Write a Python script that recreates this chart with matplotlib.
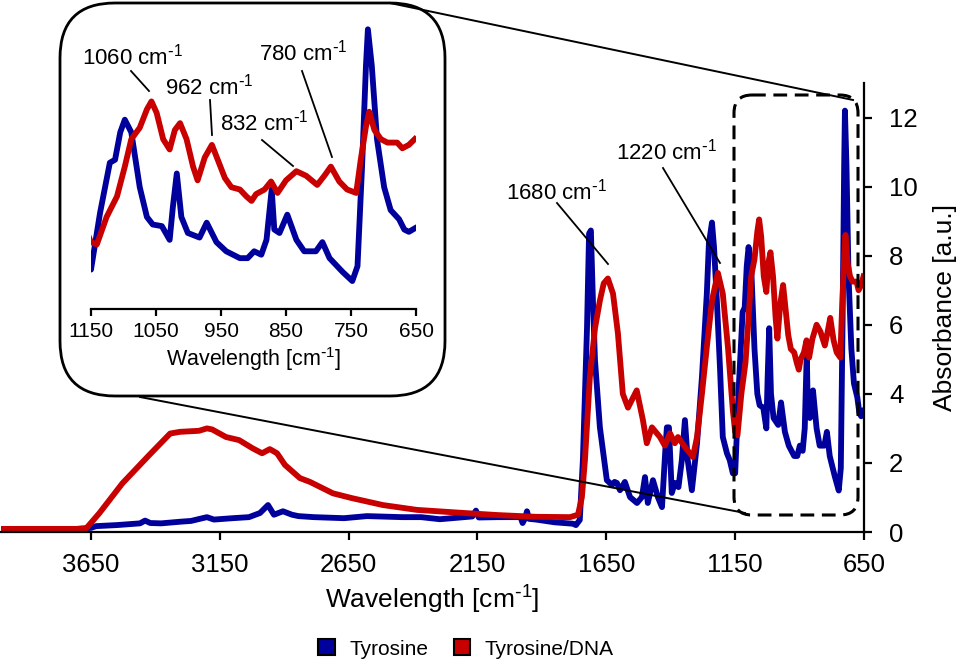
import numpy as np
import matplotlib
matplotlib.use('Agg')
import matplotlib.pyplot as plt
from matplotlib.patches import FancyBboxPatch, Patch
from matplotlib.lines import Line2D
from matplotlib import transforms

plt.rcParams['font.family'] = ['Liberation Sans', 'DejaVu Sans']
plt.rcParams['mathtext.default'] = 'regular'

# Tyrosine spectrum (wavenumber cm-1, absorbance a.u.)
wn_tyr = [4000, 3720, 3650, 3630, 3550, 3460, 3440, 3420, 3378, 3300, 3262, 3200, 3173,
          3100, 3037, 2994, 2963, 2940, 2905, 2870, 2845, 2785, 2668, 2579, 2443, 2369,
          2296, 2170, 2156, 2145, 2072, 1983, 1975, 1965, 1958, 1950, 1923, 1850, 1780,
          1768, 1753, 1741, 1725, 1717, 1710, 1702, 1694, 1675, 1648, 1628, 1618, 1609,
          1597, 1578, 1558, 1531, 1512, 1500, 1489, 1469, 1450, 1434, 1420, 1415, 1407,
          1396, 1384, 1370, 1357, 1345, 1334, 1318, 1298, 1279, 1260, 1252, 1240, 1232,
          1221, 1209, 1198, 1182, 1171, 1159, 1150, 1136, 1121, 1113, 1105, 1098, 1088,
          1075, 1064, 1055, 1041, 1029, 1024, 1018, 1011, 1001, 983, 972, 957, 942, 921,
          909, 899, 888, 880, 872, 868, 860, 848, 834, 822, 804, 794, 783, 763, 748, 740,
          733, 727, 724, 718, 710, 699, 689, 676, 668, 661, 652]
abs_tyr = [0.06, 0.08, 0.12, 0.17, 0.2, 0.25, 0.33, 0.26, 0.25, 0.3, 0.32, 0.43, 0.36,
           0.4, 0.43, 0.55, 0.78, 0.5, 0.6, 0.5, 0.46, 0.43, 0.4, 0.46, 0.43, 0.43,
           0.37, 0.45, 0.62, 0.42, 0.43, 0.43, 0.26, 0.4, 0.6, 0.38, 0.36, 0.28, 0.24,
           0.2, 0.35, 2.08, 5.9, 8.64, 8.73, 6.7, 4.97, 3.03, 1.5, 1.36, 1.45, 1.42,
           1.21, 1.45, 1.01, 0.84, 1.01, 1.59, 0.84, 1.5, 1.01, 0.72, 2.5, 3.03, 3.03,
           1.13, 1.42, 1.3, 2.08, 3.24, 2.08, 1.21, 2.57, 4.48, 6.9, 8.35, 8.96, 8.24,
           6.7, 4.77, 2.75, 2.28, 2.08, 1.7, 1.7, 4.19, 6.37, 6.5, 7.7, 8.25, 7.7,
           5.3, 4.0, 3.67, 3.6, 3.0, 4.45, 5.9, 4.0, 3.3, 3.1, 3.75, 2.9, 2.5, 2.2,
           2.2, 2.5, 2.35, 3.0, 5.2, 3.45, 3.3, 4.1, 3.0, 2.5, 2.5, 2.9, 2.2, 1.6, 1.2, 1.85,
           6.2, 10.6, 12.2, 10.6, 7.4, 5.3, 4.3, 3.9, 3.45, 3.35, 3.5]

# Tyrosine/DNA spectrum
wn_dna = [4000, 3706, 3669, 3617, 3528, 3425, 3343, 3305, 3231, 3200, 3180, 3126, 3075,
          3022, 2986, 2956, 2928, 2897, 2839, 2800, 2711, 2637, 2517, 2385, 2222, 2072,
          1923, 1791, 1760, 1745, 1733, 1714, 1694, 1675, 1660, 1644, 1624, 1605, 1586,
          1566, 1532, 1508, 1493, 1473, 1442, 1423, 1403, 1384, 1372, 1345, 1314, 1298,
          1279, 1260, 1240, 1217, 1198, 1178, 1159, 1150, 1141, 1126, 1110, 1098, 1088,
          1075, 1064, 1057, 1049, 1039, 1029, 1021, 1013, 1003, 993, 986, 975, 964, 955,
          944, 934, 921, 911, 903, 896, 883, 873, 863, 850, 834, 819, 802, 791, 781, 768,
          756, 742, 735, 727, 722, 714, 704, 694, 679, 671, 661, 652]
abs_dna = [0.09, 0.09, 0.1, 0.55, 1.41, 2.22, 2.85, 2.9, 2.93, 3.0, 2.97, 2.75, 2.66,
           2.42, 2.28, 2.4, 2.28, 1.94, 1.56, 1.45, 1.12, 0.98, 0.78, 0.64, 0.56, 0.49,
           0.44, 0.43, 0.5, 1.0, 2.08, 4.48, 5.9, 6.7, 7.2, 7.34, 6.9, 5.75, 4.0,
           3.6, 4.1, 3.24, 2.57, 3.03, 2.75, 2.5, 2.86, 2.57, 2.75, 2.46, 2.17, 2.75,
           4.0, 5.35, 6.7, 7.5, 6.9, 5.35, 3.52, 2.9, 2.8, 4.0, 4.9, 6.2, 7.4,
           7.9, 8.7, 9.05, 8.55, 7.4, 6.95, 7.8, 8.1, 7.4, 6.2, 5.6, 6.6, 7.15, 6.5,
           5.7, 5.3, 5.2, 4.9, 4.7, 5.0, 5.2, 5.55, 5.05, 5.6, 6.0, 5.8, 5.4, 5.8, 6.2, 5.55,
           5.2, 5.05, 6.5, 7.95, 8.6, 7.8, 7.4, 7.25, 7.25, 7.0, 7.15, 7.4]

main_xticks = [3650, 3150, 2650, 2150, 1650, 1150, 650]
main_yticks = [0, 2, 4, 6, 8, 10, 12]
inset_xticks = [1150, 1050, 950, 850, 750, 650]

SUP = r'$^{\text{-}1}$'
main_notes = ['1680 cm' + SUP, '1220 cm' + SUP]
inset_notes = ['1060 cm' + SUP, '962 cm' + SUP, '832 cm' + SUP, '780 cm' + SUP]

BLUE = '#00009c'
RED = '#c80000'

W, H = 957, 663
fig = plt.figure(figsize=(W / 100, H / 100), dpi=100)
# pixel coords with origin at top left
pix = transforms.Affine2D().scale(1 / 100, -1 / 100).translate(0, H / 100) + fig.dpi_scale_trans


def box(x0, y0, x1, y1):
    return [x0 / W, 1 - y1 / H, (x1 - x0) / W, (y1 - y0) / H]


# main plot
ax = fig.add_axes(box(0.8, 83, 864, 532))
ax.plot(wn_tyr, abs_tyr, color=BLUE, lw=4.2, solid_joinstyle='round')
ax.plot(wn_dna, abs_dna, color=RED, lw=4.2, solid_joinstyle='round')
ax.set_xlim(4000, 650)
ax.set_ylim(0, 13)
for s in ['left', 'top']:
    ax.spines[s].set_visible(False)
for s in ['right', 'bottom']:
    ax.spines[s].set_linewidth(1.6)
ax.yaxis.tick_right()
ax.yaxis.set_label_position('right')
ax.set_xticks(main_xticks)
ax.set_yticks(main_yticks)
ax.tick_params(direction='out', width=1.6, length=6, labelsize=18.5, pad=9)
ax.tick_params(axis='y', pad=12)
ax.set_xlabel('Wavelength [cm' + SUP + ']', fontsize=19, labelpad=5)
ax.set_ylabel('Absorbance [a.u.]', fontsize=19, labelpad=11)

# inset
axin = fig.add_axes(box(91, 11, 416, 308.5))
axin.set_facecolor('none')
axin.set_zorder(3)
axin.plot(wn_tyr, abs_tyr, color=BLUE, lw=4.2, solid_joinstyle='round')
axin.plot(wn_dna, abs_dna, color=RED, lw=4.2, solid_joinstyle='round')
axin.set_xlim(1150, 650)
axin.set_ylim(0, 13)
for s in ['left', 'top', 'right']:
    axin.spines[s].set_visible(False)
axin.spines['bottom'].set_linewidth(1.6)
axin.set_yticks([])
axin.set_xticks(inset_xticks)
axin.tick_params(direction='out', width=1.6, length=5, labelsize=15, pad=5)
axin.set_xlabel('Wavelength [cm' + SUP + ']', fontsize=15.5, labelpad=3)

# rounded frame of inset and dashed zoom region
fig.add_artist(FancyBboxPatch((60, 3), 385, 393, boxstyle='round,pad=0,rounding_size=55',
                              transform=pix, fill=False, ec='black', lw=2))
fig.add_artist(FancyBboxPatch((734, 95), 124, 420, boxstyle='round,pad=0,rounding_size=18',
                              transform=pix, fill=False, ec='black', lw=2.2,
                              ls=(0, (4.5, 2.5))))
fig.add_artist(Line2D([390, 853], [3, 100], transform=pix, color='black', lw=1.4))
fig.add_artist(Line2D([140, 745], [397, 513], transform=pix, color='black', lw=1.4))

# peak labels
note_pos = [(556, 192), (666, 152), (132, 57), (209, 87), (264, 123), (303, 53)]
note_lines = [((557, 608), (203, 264)), ((663, 720), (168, 263)),
              ((131, 149), (71, 91)), ((210, 212), (100, 135)),
              ((262, 293), (140, 166)), ((302, 332), (71, 157))]
for txt, (x, y), (lx, ly) in zip(main_notes + inset_notes, note_pos, note_lines):
    fig.text(x, y, txt, transform=pix, fontsize=16, ha='center', va='center')
    fig.add_artist(Line2D(lx, ly, transform=pix, color='black', lw=1.3))

handles = [Patch(fc=BLUE, ec='black', lw=1.5, label='Tyrosine'),
           Patch(fc=RED, ec='black', lw=1.5, label='Tyrosine/DNA')]
fig.legend(handles=handles, loc='center', bbox_to_anchor=(466, 649), bbox_transform=pix,
           ncol=2, frameon=False, fontsize=15, handlelength=0.8, handleheight=0.8,
           handletextpad=0.7, columnspacing=1.2)

fig.savefig('out.png', dpi=100)
